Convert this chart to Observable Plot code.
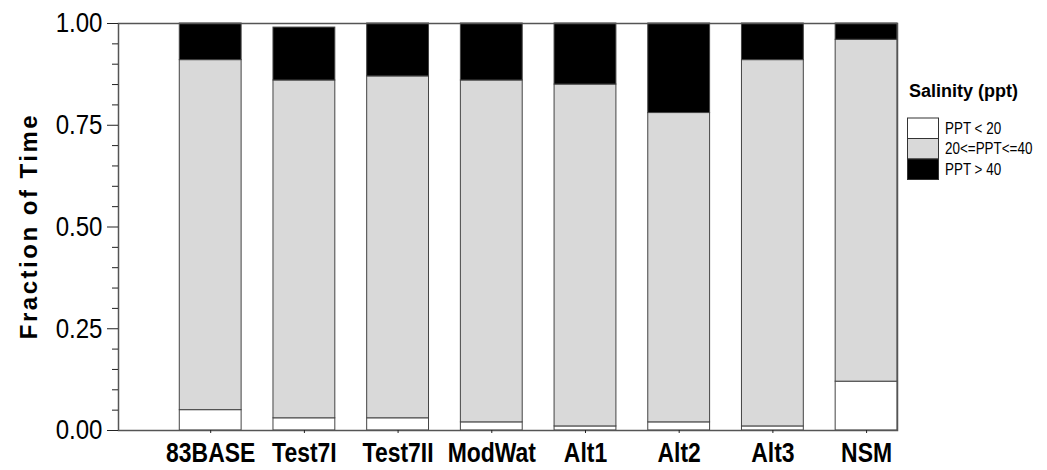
<!DOCTYPE html>
<html><head><meta charset="utf-8">
<script src="https://cdn.jsdelivr.net/npm/d3@7"></script>
<script src="https://cdn.jsdelivr.net/npm/@observablehq/plot@0.6"></script>
<style>
body{margin:0;background:#fff;}
#chart{position:relative;width:1047px;height:470px;}
</style></head><body><div id="chart"></div>
<script>
const categories = ["83BASE","Test7I","Test7II","ModWat","Alt1","Alt2","Alt3","NSM"];
const seriesNames = ["PPT < 20","20<=PPT<=40","PPT > 40"];
const low  = [0.05,0.03,0.03,0.02,0.01,0.02,0.01,0.12];
const mid  = [0.86,0.83,0.84,0.84,0.84,0.76,0.90,0.84];
const high = [0.09,0.13,0.13,0.14,0.15,0.22,0.09,0.04];
const seriesColors = ["#ffffff","#d9d9d9","#000000"];
const yMajorTicks = [0,0.25,0.5,0.75,1];
const yMinorTicks = [0.05,0.1,0.15,0.2,0.3,0.35,0.4,0.45,0.55,0.6,0.65,0.7,0.8,0.85,0.9,0.95];
const legendTitle = "Salinity (ppt)";
const yTitle = "Fraction of Time";

const seriesValues = [low, mid, high];
const data = categories.flatMap((c, i) => seriesValues.map((arr, j) => ({category: c, series: seriesNames[j], value: arr[i]})));

const font = "'Liberation Sans',Arial,sans-serif";

const plot = Plot.plot({
  width: 1047, height: 470,
  marginLeft: 118, marginRight: 150, marginTop: 23, marginBottom: 40,
  style: {fontFamily: font, color: "#000", background: "#fff", overflow: "visible"},
  x: {domain: categories, paddingInner: 0.34, paddingOuter: 0.327, align: 1, round: false, label: null},
  y: {domain: [0, 1], label: null},
  color: {domain: seriesNames, range: seriesColors},
  marks: [
    Plot.barY(data, {x: "category", y: "value", fill: "series", stroke: "#444", strokeWidth: 1}),
    Plot.frame({stroke: "#555", strokeWidth: 1.5}),
    Plot.axisY({ticks: yMinorTicks, tickSize: 6, tickFormat: () => "", stroke: "#222"}),
    Plot.axisY({ticks: yMajorTicks, tickSize: 11, tickPadding: 5, tickFormat: d => d.toFixed(2), fontSize: 28, stroke: "#222"}),
    Plot.axisX({tickSize: 3, tickPadding: 9, fontSize: 27, fontWeight: "bold", stroke: "#222"})
  ]
});

const svg = d3.select(plot);
// condense the tick labels (narrow face look)
svg.selectAll('g[aria-label="x-axis tick label"] text').each(function() {
  const t = this.getAttribute("transform") || "";
  this.setAttribute("transform", t + " scale(0.85,1)");
});
svg.selectAll('g[aria-label="y-axis tick label"] text').each(function() {
  const t = this.getAttribute("transform") || "";
  this.setAttribute("transform", t + " scale(0.86,1)");
});

// y title
svg.append("text")
  .attr("transform", "translate(29,226) rotate(-90)")
  .attr("text-anchor", "middle").attr("dy", "0.35em")
  .style("font-family", font).style("font-weight", "bold").style("font-size", "24px")
  .style("letter-spacing", "2.5px").attr("fill", "#000")
  .text(yTitle);

// legend
const lg = svg.append("g").attr("text-anchor", "start");
lg.append("text").attr("x", 909).attr("y", 97).text(legendTitle)
  .style("font-family", font).style("font-weight", "bold").style("font-size", "18px").attr("fill", "#000");
const rowH = 20.5, rowTop = 118;
seriesNames.forEach((s, i) => {
  lg.append("rect").attr("x", 907.5).attr("y", rowTop + i * rowH).attr("width", 31).attr("height", rowH)
    .attr("fill", seriesColors[i]).attr("stroke", "#333").attr("stroke-width", 1);
  lg.append("text").attr("transform", `translate(945,${rowTop + i * rowH + rowH / 2}) scale(0.84,1)`)
    .attr("dy", "0.35em").text(s)
    .style("font-family", font).style("font-size", "16px").attr("fill", "#000");
});

document.getElementById("chart").appendChild(plot);
</script></body></html>
